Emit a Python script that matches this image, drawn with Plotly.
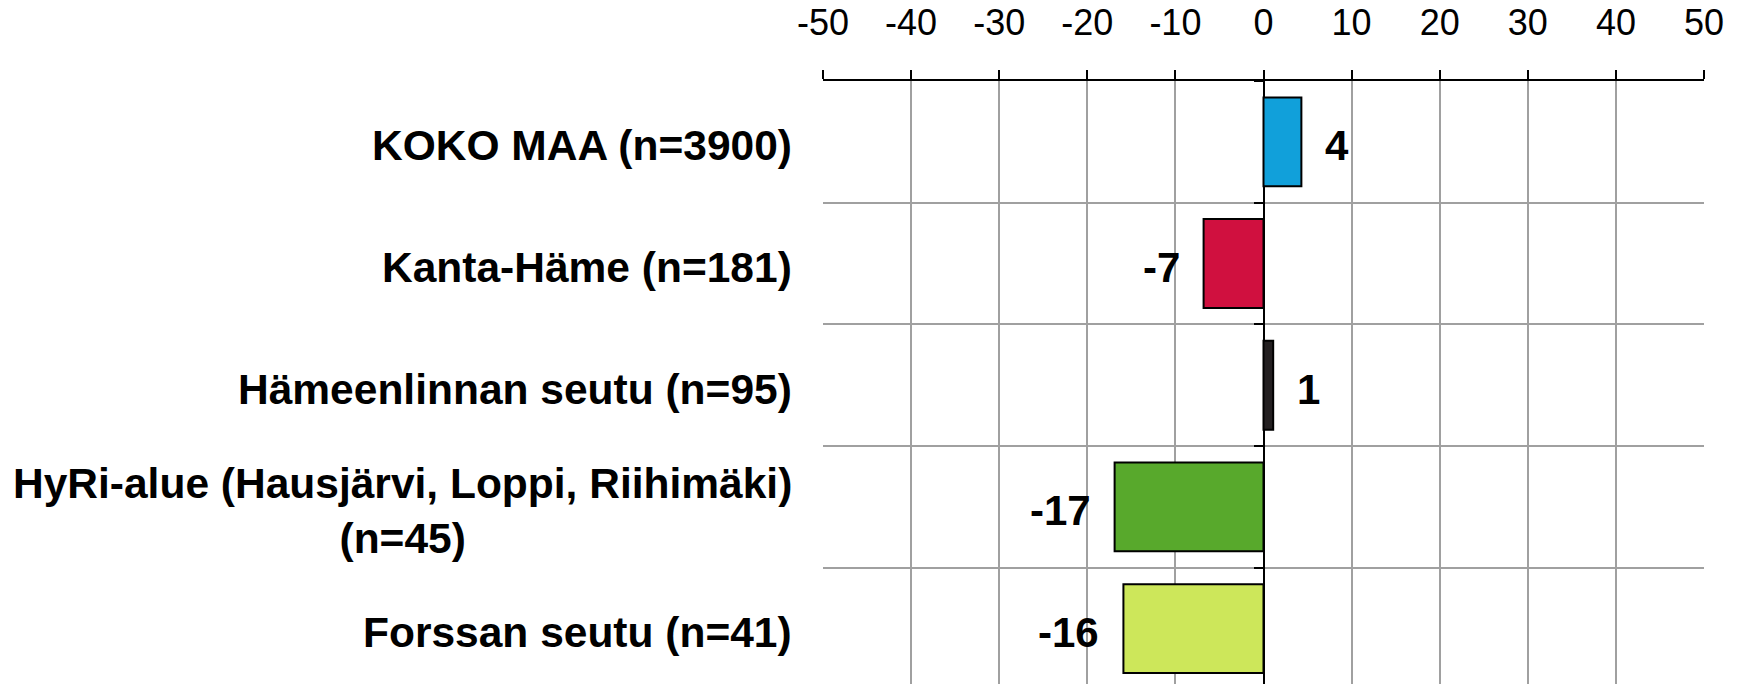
import plotly.graph_objects as go

categories = [
    "KOKO MAA (n=3900)",
    "Kanta-Häme (n=181)",
    "Hämeenlinnan seutu (n=95)",
    "HyRi-alue (Hausjärvi, Loppi, Riihimäki)<br>(n=45)",
    "Forssan seutu (n=41)",
]
values = [4.3, -6.8, 1.1, -16.9, -15.9]
colors = ["#11a0da", "#d0103f", "#231f20", "#58a92c", "#cde75a"]
x_ticks = [-50, -40, -30, -20, -10, 0, 10, 20, 30, 40, 50]

FONT = "Liberation Sans, Arial, sans-serif"

fig = go.Figure()
fig.add_trace(go.Bar(
    x=values,
    y=categories,
    orientation="h",
    marker=dict(color=colors, line=dict(color="black", width=2)),
    hoverinfo="skip",
))

annotations = []
# category labels (right aligned block, centred lines)
for c in categories:
    annotations.append(dict(
        x=0, xref="paper", y=c, yref="y",
        text="<b>" + c + "</b>", showarrow=False,
        xanchor="right", yanchor="middle", align="center",
        xshift=-29, yshift=-4,
        font=dict(family=FONT, size=42.5, color="black"),
    ))
# value labels
for c, v in zip(categories, values):
    annotations.append(dict(
        x=v, xref="x", y=c, yref="y",
        text="<b>%d</b>" % round(v), showarrow=False,
        xanchor="left" if v >= 0 else "right", yanchor="middle",
        xshift=22 if v >= 0 else -22, yshift=-4,
        font=dict(family=FONT, size=42, color="black"),
    ))

fig.update_layout(
    width=1746, height=684,
    margin=dict(l=823, r=42, t=81, b=0, pad=0),
    paper_bgcolor="white", plot_bgcolor="white",
    showlegend=False,
    bargap=0.27,
    annotations=annotations,
    font=dict(family=FONT, color="black"),
    xaxis=dict(
        side="top", range=[-50, 50],
        tickvals=x_ticks, ticktext=[str(t) for t in x_ticks],
        showline=True, linecolor="black", linewidth=2,
        ticks="outside", ticklen=9, tickwidth=2, tickcolor="black",
        tickfont=dict(family=FONT, size=36, color="black"),
        ticklabelstandoff=21,
        showgrid=True, gridcolor="#a0a0a0", gridwidth=2,
        zeroline=True, zerolinecolor="black", zerolinewidth=2,
        fixedrange=True,
    ),
    yaxis=dict(
        type="category", categoryorder="array", categoryarray=categories,
        range=[4.455, -0.5],
        anchor="free", position=0.5,
        tickson="boundaries", ticks="outside", ticklen=10, tickwidth=2,
        tickcolor="black", showticklabels=False,
        showgrid=True, gridcolor="#a0a0a0", gridwidth=2,
        showline=False, zeroline=False,
        fixedrange=True,
    ),
)

fig.write_html(
    "out.html",
    config={"displayModeBar": False},
    post_script="document.body.style.margin='0';document.body.style.overflow='hidden';",
)
